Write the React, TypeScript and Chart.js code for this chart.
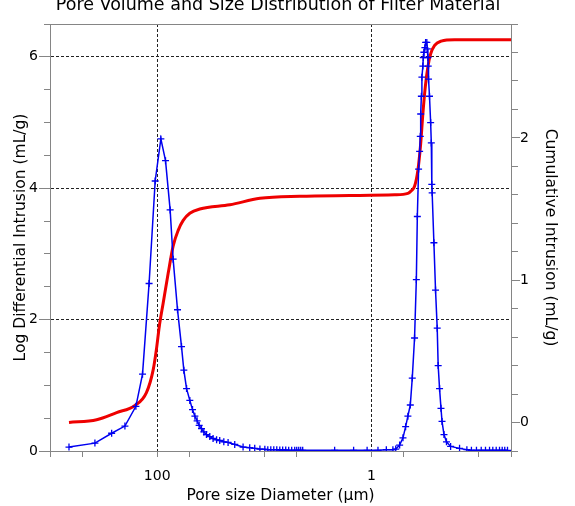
import React, { useEffect, useRef } from 'react';
import { Chart, registerables } from 'chart.js';

Chart.register(...registerables);

// ---------- text ----------
const TITLE = 'Pore Volume and Size Distribution of Filter Material';
const X_TITLE = 'Pore size Diameter (µm)';
const Y_LEFT_TITLE = 'Log Differential Intrusion (mL/g)';
const Y_RIGHT_TITLE = 'Cumulative Intrusion (mL/g)';

// ---------- ticks ----------
const X_TICKS = [1000, 500, 100, 50, 10, 5, 1, 0.5, 0.1, 0.05];
const X_LABELED = [100, 1];
const X_GRID = [100, 1];
const LEFT_LABELED = [0, 2, 4, 6];
const LEFT_GRID = [2, 4, 6];
const RIGHT_LABELED = [0, 1, 2];

// ---------- data: Log Differential Intrusion (blue) ----------
const diffDiameters = [
  665, 381, 266, 200, 158, 137, 119, 104.4, 92.4, 83.6, 75.7, 71.0, 64.6, 59.3,
  56.4, 53.2, 49.6, 46.8, 44.5, 42.4, 40.6, 38.6, 36.7, 34.7, 32.3, 30.1, 27.9,
  26.1, 23.9, 21.8, 18.9, 15.8, 13.7, 12.3, 11.0, 9.9, 9.29, 8.71, 8.17, 7.66,
  7.18, 6.75, 6.32, 5.93, 5.56, 5.21, 4.99, 4.78, 4.58, 4.39, 2.21, 1.47, 1.10,
  0.871, 0.728, 0.632, 0.595, 0.547, 0.509, 0.481, 0.458, 0.435, 0.417, 0.397,
  0.382, 0.374, 0.364, 0.356, 0.351, 0.348, 0.343, 0.339, 0.332, 0.329, 0.325,
  0.318, 0.313, 0.305, 0.302, 0.298, 0.296, 0.294, 0.288, 0.281, 0.277, 0.274,
  0.272, 0.262, 0.253, 0.244, 0.239, 0.232, 0.225, 0.220, 0.211, 0.200, 0.183,
  0.151, 0.129, 0.117, 0.105, 0.0948, 0.0865, 0.0793, 0.0739, 0.0687, 0.0640,
  0.0604, 0.0572, 0.0539,
];
const diffValues = [
  0.06, 0.12, 0.27, 0.38, 0.68, 1.17, 2.55, 4.11, 4.75, 4.42, 3.67, 2.92, 2.15, 1.59,
  1.23, 0.95, 0.77, 0.63, 0.53, 0.46, 0.39, 0.34, 0.29, 0.25, 0.22, 0.19, 0.17,
  0.16, 0.14, 0.13, 0.10, 0.06, 0.05, 0.04, 0.03, 0.025, 0.02, 0.02, 0.02, 0.02,
  0.015, 0.015, 0.015, 0.01, 0.01, 0.01, 0.01, 0.01, 0.01, 0.01, 0.01, 0.01, 0.01,
  0.01, 0.02, 0.02, 0.03, 0.09, 0.20, 0.37, 0.53, 0.70, 1.11, 1.72,
  2.61, 3.57, 4.29, 4.56, 4.79, 5.13, 5.40, 5.69, 5.86, 5.99, 6.07,
  6.14, 6.22, 6.22, 6.12, 5.99, 5.86, 5.66, 5.40, 5.00, 4.69, 4.06,
  3.93, 3.17, 2.45, 1.87, 1.30, 0.95, 0.65, 0.45, 0.25, 0.14, 0.07,
  0.04, 0.02, 0.01, 0.01, 0.01, 0.01, 0.01, 0.01, 0.01, 0.01,
  0.01, 0.01, 0.01,
];

// ---------- data: Cumulative Intrusion (red) ----------
const cumDiameters = [
  665, 367, 239, 161, 126, 109, 101, 95.8, 87.9, 78.9, 71.0, 63.7, 57.2, 49.6,
  40.0, 21.0, 11.0, 4.68, 1.60, 0.609, 0.458, 0.423, 0.397, 0.370, 0.348, 0.332,
  0.315, 0.298, 0.281, 0.258, 0.224, 0.168, 0.05,
];
const cumValues = [
  0.00, 0.02, 0.07, 0.12, 0.21, 0.37, 0.53, 0.67, 0.84, 1.05, 1.24, 1.35, 1.42, 1.47,
  1.50, 1.53, 1.575, 1.59, 1.595, 1.60, 1.61, 1.63, 1.66, 1.77, 1.96, 2.17,
  2.36, 2.50, 2.59, 2.65, 2.68, 2.69, 2.69,
];

// ---------- styles ----------
const FONT = '"DejaVu Sans", Verdana, sans-serif';
const AXIS_COLOR = '#858585';
const GRID_COLOR = '#222222';
const TEXT_COLOR = '#000000';
const BLUE = '#0000f0';
const RED = '#ee0000';
const CLEAR = 'rgba(0,0,0,0)';

const near = (v: number, list: number[]) =>
  list.some((t) => Math.abs(v - t) <= 1e-6 * Math.max(1, Math.abs(t)));

const framePlugin = {
  id: 'frameAndTitle',
  afterDraw(chart: any) {
    const { ctx, chartArea } = chart;
    ctx.save();
    ctx.strokeStyle = AXIS_COLOR;
    ctx.lineWidth = 1;
    const y = Math.round(chartArea.top) + 0.5;
    ctx.beginPath();
    ctx.moveTo(chartArea.left, y);
    ctx.lineTo(chartArea.right, y);
    ctx.stroke();
    ctx.fillStyle = TEXT_COLOR;
    ctx.font = `17.5px ${FONT}`;
    ctx.textAlign = 'center';
    ctx.textBaseline = 'alphabetic';
    ctx.fillText(TITLE, 278, 10);
    ctx.restore();
  },
};

export default function App() {
  const ref = useRef<HTMLCanvasElement>(null);

  useEffect(() => {
    const canvas = ref.current;
    if (!canvas) return;

    const diffData = diffDiameters.map((d, i) => ({ x: d, y: diffValues[i] }));
    const cumData = cumDiameters.map((d, i) => ({ x: d, y: cumValues[i] }));

    const chart = new Chart(canvas, {
      type: 'line',
      data: {
        datasets: [
          {
            label: 'Log Differential Intrusion',
            data: diffData,
            yAxisID: 'y',
            borderColor: BLUE,
            backgroundColor: BLUE,
            borderWidth: 1.5,
            pointStyle: 'cross',
            pointRadius: 3.5,
            pointBorderWidth: 1.3,
            pointBorderColor: BLUE,
            pointBackgroundColor: BLUE,
            tension: 0,
            fill: false,
          },
          {
            label: 'Cumulative Intrusion',
            data: cumData,
            yAxisID: 'y1',
            borderColor: RED,
            backgroundColor: RED,
            borderWidth: 3,
            pointRadius: 0,
            cubicInterpolationMode: 'monotone',
            fill: false,
          },
        ],
      },
      options: {
        animation: false,
        responsive: false,
        layout: { padding: { top: 24, left: 0, right: 0, bottom: 0 } },
        plugins: {
          legend: { display: false },
          tooltip: { enabled: false },
          title: { display: false },
        },
        scales: {
          x: {
            type: 'logarithmic',
            position: 'bottom',
            reverse: true,
            min: 0.05,
            max: 1000,
            afterBuildTicks: (s: any) => {
              s.ticks = X_TICKS.map((v) => ({ value: v }));
            },
            afterFit: (s: any) => {
              s.height = 55;
            },
            ticks: {
              autoSkip: false,
              maxRotation: 0,
              minRotation: 0,
              padding: 10.5,
              color: TEXT_COLOR,
              font: { family: FONT, size: 14 },
              callback: (v: any) => (near(Number(v), X_LABELED) ? String(v) : ''),
            },
            grid: {
              color: (c: any) => (c.tick && near(c.tick.value, X_GRID) ? GRID_COLOR : CLEAR),
              lineWidth: 1,
              tickColor: AXIS_COLOR,
              tickLength: 6,
            },
            border: { display: true, color: AXIS_COLOR, width: 1, dash: [3, 2] },
            title: {
              display: true,
              text: X_TITLE,
              color: TEXT_COLOR,
              font: { family: FONT, size: 15.5 },
              padding: { top: 0, bottom: 0.9 },
            },
          },
          y: {
            type: 'linear',
            position: 'left',
            min: 0,
            max: 6.5,
            afterFit: (s: any) => {
              s.width = 50;
            },
            ticks: {
              stepSize: 0.5,
              autoSkip: false,
              padding: 1,
              color: TEXT_COLOR,
              font: { family: FONT, size: 14 },
              callback: (v: any) => (near(Number(v), LEFT_LABELED) ? String(v) : ''),
            },
            grid: {
              color: (c: any) => (c.tick && near(c.tick.value, LEFT_GRID) ? GRID_COLOR : CLEAR),
              lineWidth: 1,
              tickColor: AXIS_COLOR,
              tickLength: 11,
              tickBorderDash: (c: any) =>
                c.tick && near(c.tick.value, LEFT_LABELED) ? [] : [0, 5, 20],
            },
            border: { display: true, color: AXIS_COLOR, width: 1, dash: [3, 2] },
            title: {
              display: true,
              text: Y_LEFT_TITLE,
              color: TEXT_COLOR,
              font: { family: FONT, size: 15.5 },
              padding: { top: 11.8, bottom: 0 },
            },
          },
          y1: {
            type: 'linear',
            position: 'right',
            min: -0.2,
            max: 2.8,
            afterFit: (s: any) => {
              s.width = 64;
            },
            ticks: {
              stepSize: 0.2,
              autoSkip: false,
              padding: 0,
              color: TEXT_COLOR,
              font: { family: FONT, size: 14 },
              callback: (v: any) =>
                near(Number(v), RIGHT_LABELED) ? String(Math.round(Number(v))) : '',
            },
            grid: {
              drawOnChartArea: false,
              color: AXIS_COLOR,
              tickColor: AXIS_COLOR,
              tickLength: 9,
              tickBorderDash: (c: any) =>
                c.tick && near(c.tick.value, RIGHT_LABELED) ? [] : [6, 20],
            },
            border: { display: true, color: AXIS_COLOR, width: 1 },
            title: {
              display: true,
              text: Y_RIGHT_TITLE,
              color: TEXT_COLOR,
              font: { family: FONT, size: 15.5 },
              padding: { top: 16, bottom: 0 },
            },
          },
        },
      } as any,
      plugins: [framePlugin],
    });

    return () => chart.destroy();
  }, []);

  return (
    <div style={{ position: 'absolute', left: 0, top: 0, width: 575, height: 506, background: '#fff' }}>
      <canvas ref={ref} width={575} height={506} style={{ display: 'block', width: 575, height: 506 }} />
    </div>
  );
}
